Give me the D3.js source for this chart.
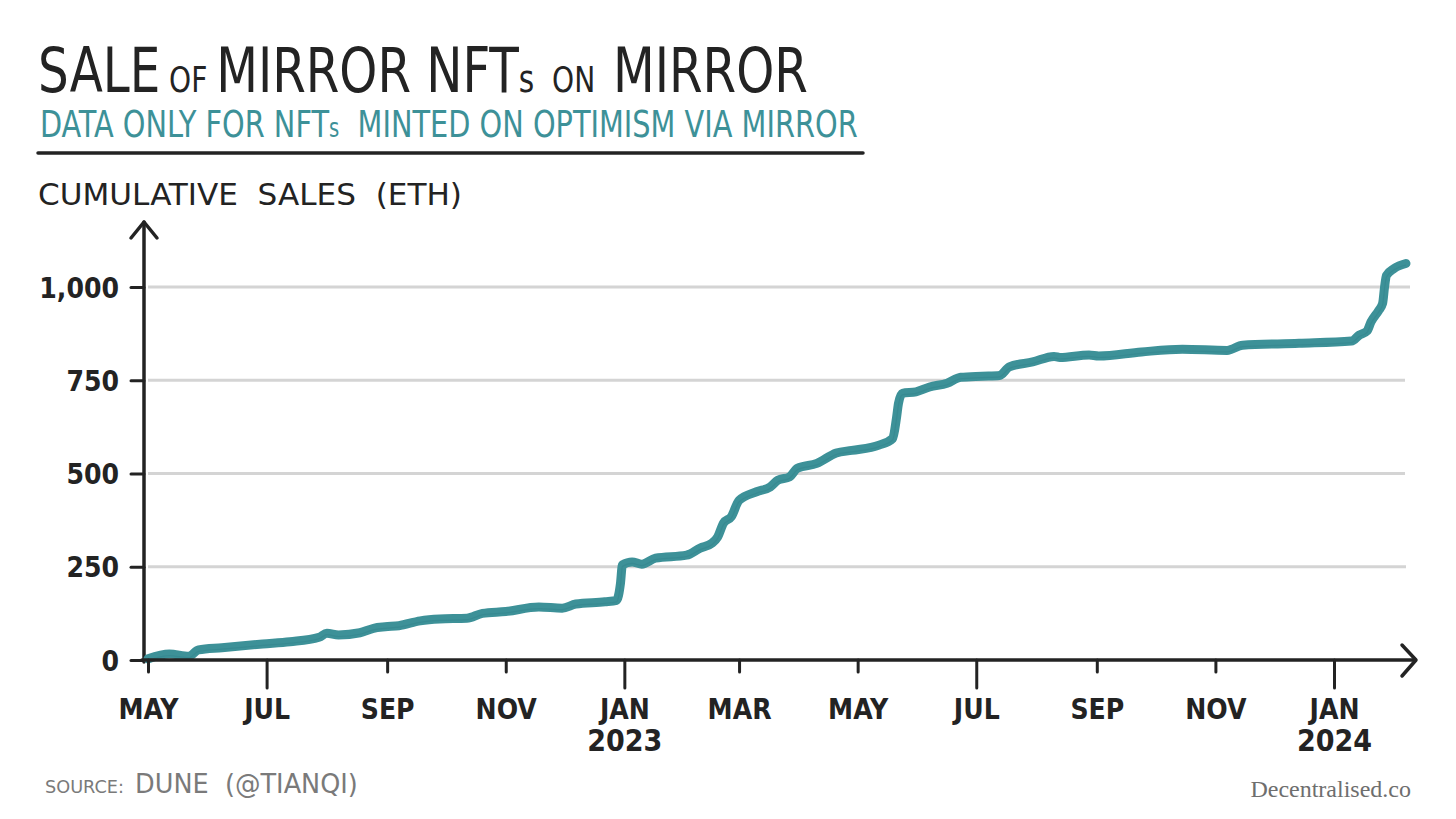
<!DOCTYPE html>
<html><head><meta charset="utf-8">
<script src="https://cdn.jsdelivr.net/npm/d3@7"></script>
<style>body{margin:0;background:#fff}svg{display:block}text{white-space:pre}</style>
</head><body>
<svg id="c" width="1456" height="819"></svg>
<script>
// ---- data ----
const dates = ["2022-05-01","2022-05-12","2022-05-22","2022-05-27","2022-06-08","2022-06-29","2022-07-13","2022-07-28","2022-08-01","2022-08-07","2022-08-18","2022-08-25","2022-08-31","2022-09-07","2022-09-18","2022-09-28","2022-10-12","2022-10-20","2022-11-01","2022-11-18","2022-11-30","2022-12-07","2022-12-22","2022-12-28","2022-12-30","2022-12-31","2023-01-05","2023-01-10","2023-01-17","2023-02-02","2023-02-09","2023-02-15","2023-02-18","2023-02-21","2023-02-25","2023-03-01","2023-03-10","2023-03-17","2023-03-21","2023-03-27","2023-03-31","2023-04-10","2023-04-20","2023-04-28","2023-05-12","2023-05-19","2023-05-21","2023-05-22","2023-05-24","2023-05-31","2023-06-07","2023-06-16","2023-06-23","2023-07-04","2023-07-13","2023-07-18","2023-07-30","2023-08-10","2023-08-13","2023-08-28","2023-09-02","2023-09-24","2023-10-15","2023-11-07","2023-11-15","2023-12-14","2024-01-10","2024-01-14","2024-01-18","2024-01-20","2024-01-24","2024-01-26","2024-01-27","2024-01-28","2024-02-01","2024-02-07"];
const cumulativeEth = [3,16,10,27,33,43,49,61,72,67,73,85,89,92,105,110,112,125,130,142,139,150,156,160,205,255,263,257,273,281,300,313,330,367,384,428,451,464,482,491,514,527,555,562,576,594,650,688,715,719,732,742,758,761,763,786,799,814,811,818,815,826,833,830,844,849,855,871,882,906,937,956,1000,1031,1050,1063];
const yTicks = [0, 250, 500, 750, 1000];
const xTickDates = ["2022-05-01","2022-07-01","2022-09-01","2022-11-01","2023-01-01","2023-03-01","2023-05-01","2023-07-01","2023-09-01","2023-11-01","2024-01-01"];
const xTickMonths = ["MAY","JUL","SEP","NOV","JAN","MAR","MAY","JUL","SEP","NOV","JAN"];
const xTickYears = ["","","","","2023","","","","","","2024"];
const majorTicks = [false,true,false,false,true,false,false,true,false,false,true];

const HAND = "'Liberation Sans Narrow','DejaVu Sans Condensed','Roboto Condensed',sans-serif";
const INK = "#232323", TEAL = "#3d9198", GRID = "#d4d4d4";

const svg = d3.select("#c");
const parse = d3.utcParse("%Y-%m-%d");

const x = d3.scaleUtc().domain([parse("2022-05-01"), parse("2024-01-01")]).range([148, 1334]);
const y = d3.scaleLinear().domain([0, 1000]).range([660, 287]);

function fitWidth(sel, x0, target) {
  const w = sel.node().getBBox().width;
  sel.attr("transform", `translate(${x0},0) scale(${target / w},1) translate(${-x0},0)`);
}

// ---- titles ----
const t = svg.append("text").attr("x", 38).attr("y", 92).attr("fill", INK)
  .style("font-family", HAND).style("font-size", "62px");
t.append("tspan").text("SALE");
t.append("tspan").style("font-size", "36px").text(" OF ");
t.append("tspan").text("MIRROR NFT");
t.append("tspan").style("font-size", "38px").text("s");
t.append("tspan").style("font-size", "36px").text("  ON  ");
t.append("tspan").text("MIRROR");
fitWidth(t, 38, 770);

const st = svg.append("text").attr("x", 40).attr("y", 137).attr("fill", TEAL)
  .style("font-family", HAND).style("font-size", "38px");
st.append("tspan").text("DATA ONLY FOR NFT");
st.append("tspan").style("font-size", "26px").text("s");
st.append("tspan").text("  MINTED ON OPTIMISM VIA MIRROR");
fitWidth(st, 40, 818);

svg.append("line").attr("x1", 38).attr("x2", 863).attr("y1", 153).attr("y2", 153)
  .attr("stroke", INK).attr("stroke-width", 3.5).attr("stroke-linecap", "round");

const yl = svg.append("text").attr("x", 38).attr("y", 205).attr("fill", INK)
  .style("font-family", HAND).style("font-size", "31px").text("CUMULATIVE  SALES  (ETH)");
fitWidth(yl, 38, 424);

// ---- grid ----
svg.append("g").selectAll("line").data(yTicks.filter(d => d > 0)).join("line")
  .attr("x1", 148).attr("x2", (d, i) => [1406, 1405, 1405, 1410][i])
  .attr("y1", d => y(d)).attr("y2", d => y(d))
  .attr("stroke", GRID).attr("stroke-width", 3);

// ---- y axis ----
const yAxis = d3.axisLeft(y).tickValues(yTicks).tickSize(13).tickPadding(12)
  .tickFormat(d3.format(","));
const gy = svg.append("g").attr("transform", "translate(144,0)").call(yAxis);
gy.select(".domain").remove();
gy.selectAll(".tick line").attr("stroke", INK).attr("stroke-width", 3).attr("stroke-linecap", "round");
gy.selectAll(".tick text").attr("fill", INK).attr("dy", "0.36em")
  .style("font-family", HAND).style("font-size", "28px").style("font-weight", "bold");
svg.append("line").attr("x1", 144).attr("x2", 144).attr("y1", 662).attr("y2", 222)
  .attr("stroke", INK).attr("stroke-width", 3.5).attr("stroke-linecap", "round");
svg.append("path").attr("d", "M131,238 L144,222 L157,238").attr("fill", "none")
  .attr("stroke", INK).attr("stroke-width", 3.5).attr("stroke-linecap", "round").attr("stroke-linejoin", "round");

// ---- line ----
const pts = dates.map((d, i) => ({ d: parse(d), v: cumulativeEth[i] }));
const line = d3.line().x(p => x(p.d)).y(p => y(p.v)).curve(d3.curveMonotoneX);
svg.append("path").datum(pts).attr("d", line).attr("fill", "none")
  .attr("stroke", TEAL).attr("stroke-width", 9).attr("stroke-linecap", "round").attr("stroke-linejoin", "round");
svg.append("path").datum(pts).attr("d", line).attr("fill", "none")
  .attr("stroke", "#2f7f86").attr("stroke-width", 1.2).attr("stroke-opacity", 0.35)
  .attr("transform", "translate(0,1.5)");

// ---- x axis ----
const xt = xTickDates.map(parse);
const xAxis = d3.axisBottom(x).tickValues(xt).tickSize(0).tickFormat("");
const gx = svg.append("g").attr("transform", "translate(0,660)").call(xAxis);
gx.select(".domain").remove();
gx.selectAll(".tick").append("line").attr("y1", 0).attr("y2", (d, i) => majorTicks[i] ? 28 : 12)
  .attr("stroke", INK).attr("stroke-width", 3).attr("stroke-linecap", "round");
gx.selectAll(".tick").append("text").attr("y", 59).attr("fill", INK).attr("text-anchor", "middle")
  .style("font-family", HAND).style("font-size", "28px").style("font-weight", "bold")
  .text((d, i) => xTickMonths[i]);
gx.selectAll(".tick").append("text").attr("y", 91).attr("fill", INK).attr("text-anchor", "middle")
  .style("font-family", HAND).style("font-size", "30px").style("font-weight", "bold")
  .text((d, i) => xTickYears[i]);
svg.append("line").attr("x1", 142).attr("x2", 1415).attr("y1", 660).attr("y2", 660)
  .attr("stroke", INK).attr("stroke-width", 3.5).attr("stroke-linecap", "round");
svg.append("path").attr("d", "M1402,645 L1416,660 L1402,676").attr("fill", "none")
  .attr("stroke", INK).attr("stroke-width", 3.5).attr("stroke-linecap", "round").attr("stroke-linejoin", "round");

// ---- footer ----
const src = svg.append("text").attr("x", 45).attr("y", 793).attr("fill", "#7a7a7a")
  .style("font-family", HAND).style("font-size", "26px");
src.append("tspan").style("font-size", "18px").text("SOURCE:  ");
src.append("tspan").text("DUNE  (@TIANQI)");
fitWidth(src, 45, 313);

svg.append("text").attr("x", 1411).attr("y", 797).attr("text-anchor", "end").attr("fill", "#6e6e6e")
  .style("font-family", "'Liberation Serif','DejaVu Serif',serif").style("font-size", "24px")
  .text("Decentralised.co");
</script>
</body></html>
